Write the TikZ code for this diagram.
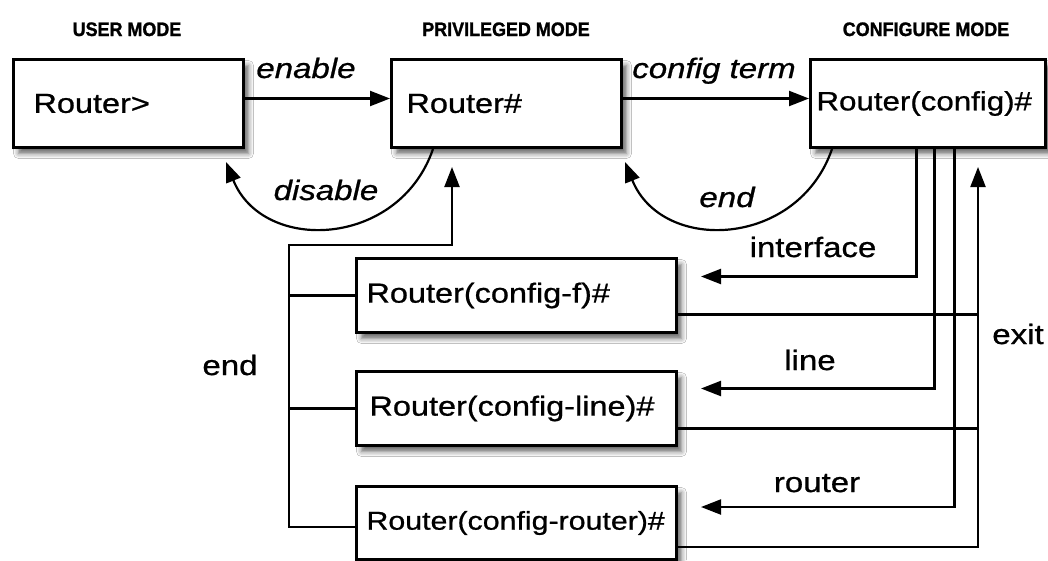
\documentclass[tikz,border=0pt]{standalone}
\usepackage{fontspec}
\setmainfont{Liberation Sans}[FakeStretch=1.18,FakeBold=0.8]
\newfontfamily\headfont{Liberation Sans}[FakeStretch=0.92,FakeBold=1.2]
\usetikzlibrary{arrows.meta,shadows.blur}
\tikzset{
  box/.style={draw, line width=3pt, fill=white, align=left, inner ysep=0pt,
    minimum height=88pt, anchor=north west,
    blur shadow={shadow xshift=5pt, shadow yshift=-6pt, shadow blur radius=5pt, shadow opacity=60}},
  sbox/.style={box, minimum height=74pt},
  boxfont/.style={font=\fontsize{27.5}{30}\selectfont},
  conn/.style={line width=2.2pt},
  arr/.style={conn, -{Triangle[length=20pt,width=15pt]}},
  head/.style={font=\headfont\bfseries\fontsize{19.5}{22}\selectfont, anchor=base},
  lab/.style={font=\fontsize{28}{32}\selectfont, anchor=base},
  ilab/.style={font=\fontsize{28}{32}\selectfont\itshape, anchor=base},
}
\begin{document}
\begin{tikzpicture}[x=1pt,y=-1pt]
\fill[white] (0,0) rectangle (1048,560);
\useasboundingbox (0,0) rectangle (1048,560);

\node[head] (h1) at (127,36) {USER MODE};
\node[head] (h2) at (506,36) {PRIVILEGED MODE};
\node[head] (h3) at (926,36) {CONFIGURE MODE};

\node[box, boxfont, text width=190pt, inner xsep=20pt] (b1) at (12,58) {Router>};
\node[box, boxfont, text width=200pt, inner xsep=15pt] (b2) at (390,58) {Router\#};
\node[box, font=\fontsize{26.5}{30}\selectfont, text width=223pt, inner xsep=6pt] (b3) at (809,58) {Router(config)\#};
\node[sbox, boxfont, text width=300pt, inner xsep=10pt] (bf) at (355,257) {Router(config-f)\#};
\node[sbox, boxfont, text width=294pt, inner xsep=13pt] (bl) at (355,370) {Router(config-line)\#};
\node[sbox, font=\fontsize{25.7}{30}\selectfont, text width=300pt, inner xsep=10pt, minimum height=73pt] (br) at (355,485) {Router(config-router)\#};

% top arrows
\draw[arr] ([yshift=5pt]b1.east) -- ([yshift=5pt]b2.west);
\draw[arr] ([yshift=5pt]b2.east) -- ([yshift=5pt]b3.west);
\draw[arr] ([xshift=43pt]b2.south west) .. controls (399,248) and (263,254) .. ([xshift=-19pt,yshift=-13pt]b1.south east);
\draw[arr] ([xshift=23pt]b3.south west) .. controls (798,248) and (662,254) .. ([xshift=2pt,yshift=-13pt]b2.south east);

% left end bus
\coordinate (etip) at (452,167);
\coordinate (busx) at (289,245);
\draw[arr] ([yshift=-4pt]br.west) -| (busx) -| (etip);
\draw[conn] (bf.west) -- (bf.west -| busx);
\draw[conn] (bl.west) -- (bl.west -| busx);

% right side entries
\draw[arr] ([xshift=107.5pt]b3.south west) |- ([xshift=23pt,yshift=19pt]bf.east);
\draw[arr] ([xshift=125.5pt]b3.south west) |- ([xshift=23pt,yshift=20pt]bl.east);
\draw[arr] ([xshift=145.5pt]b3.south west) |- ([xshift=23pt,yshift=16pt]br.east);

% exit
\coordinate (xtip) at (978,167);
\draw[arr] ([yshift=-24pt]br.east) -| (xtip);
\draw[conn] ([yshift=-19pt]bf.east) -- ([yshift=-19pt]bf.east -| xtip);
\draw[conn] ([yshift=-20pt]bl.east) -- ([yshift=-20pt]bl.east -| xtip);

% labels
\node[ilab] (lenable) at (306,78) {enable};
\node[ilab] (lconf) at (714,78) {config term};
\node[ilab] (ldis) at (326,200) {disable};
\node[ilab] (lend) at (727,207) {end};
\node[lab] (lint) at (813,257) {interface};
\node[lab] (lline) at (810,370) {line};
\node[lab] (lrouter) at (817,492) {router};
\node[lab] (lexit) at (1018,344) {exit};
\node[lab] (lend2) at (230,375) {end};
\end{tikzpicture}
\end{document}
